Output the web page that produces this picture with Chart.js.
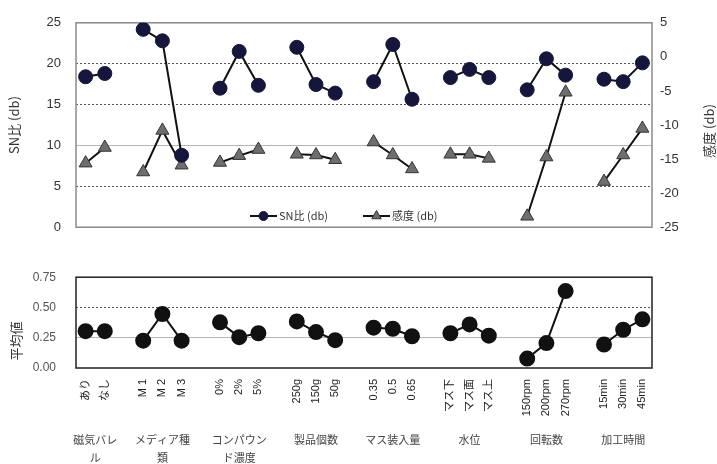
<!DOCTYPE html>
<html><head><meta charset="utf-8">
<script src="https://cdn.jsdelivr.net/npm/chart.js@4"></script>
<style>
html,body{margin:0;padding:0;background:#fff;}
#wrap{position:relative;width:717px;height:464px;overflow:hidden;}
#c1{position:absolute;left:0;top:0;}
#c2{position:absolute;left:0;top:250px;}
</style></head><body>
<div id="wrap">
<canvas id="c1" width="717" height="250"></canvas>
<canvas id="c2" width="717" height="214"></canvas>
</div>
<script>
const categories = ['あり','なし','', 'M 1','M 2','M 3','', '0%','2%','5%','', '250g','150g','50g','', '0.35','0.5','0.65','', 'マス下','マス面','マス上','', '150rpm','200rpm','270rpm','', '15min','30min','45min'];
const snRatio     = [18.4,18.8,null, 24.2,22.8,8.8,null, 17.0,21.5,17.35,null, 22.0,17.45,16.4,null, 17.8,22.35,15.65,null, 18.3,19.3,18.3,null, 16.8,20.6,18.6,null, 18.1,17.8,20.1];
const sensitivity = [-15.6,-13.3,null, -16.9,-10.8,-15.9,null, -15.5,-14.5,-13.6,null, -14.3,-14.4,-15.1,null, -12.5,-14.4,-16.45,null, -14.3,-14.3,-14.9,null, -23.4,-14.7,-5.2,null, -18.3,-14.4,-10.5];
const meanValue   = [0.304,0.304,null, 0.226,0.446,0.226,null, 0.377,0.255,0.287,null, 0.385,0.297,0.230,null, 0.333,0.324,0.262,null, 0.287,0.360,0.267,null, 0.078,0.206,0.635,null, 0.194,0.316,0.402];
const groupNames  = [['磁気バレ','ル'],['メディア種','類'],['コンパウン','ド濃度'],['製品個数'],['マス装入量'],['水位'],['回転数'],['加工時間']];
const groupFirst  = [0,3,7,11,15,19,23,27];
const groupLast   = [1,5,9,13,17,21,25,29];
const snTicks     = ['0','5','10','15','20','25'];
const sensTicks   = ['-25','-20','-15','-10','-5','0','5'];
const meanTicks   = ['0.00','0.25','0.50','0.75'];
const seriesNames = ['SN比 (db)','感度 (db)'];
const axisTitles  = ['SN比 (db)','感度 (db)','平均値'];

const FF = "'Liberation Sans','Noto Sans CJK JP',sans-serif";
const JF = "'Noto Sans CJK JP','Liberation Sans',sans-serif";

function drawRotated(ctx, text, x, y, font, color){
  ctx.save();
  ctx.translate(x,y);
  ctx.rotate(-Math.PI/2);
  ctx.font = font; ctx.fillStyle = color;
  ctx.textAlign='center'; ctx.textBaseline='middle';
  ctx.fillText(text,0,0);
  ctx.restore();
}

const topPlugin = {
  id:'topDecor',
  beforeDatasetsDraw(chart){
    const {ctx, chartArea:a} = chart;
    ctx.save();
    ctx.strokeStyle='#8a8a8a'; ctx.lineWidth=1.5;
    ctx.strokeRect(a.left,a.top,a.right-a.left,a.bottom-a.top);
    ctx.restore();
  },
  afterDraw(chart){
    const ctx = chart.ctx;
    drawRotated(ctx, axisTitles[1], 709, 131, "13px "+JF, '#333');
    const ds = chart.data.datasets;
    const items = [{x:250,y:216,ds:ds[0],text:seriesNames[0]},{x:363,y:216,ds:ds[1],text:seriesNames[1]}];
    items.forEach(it=>{
      ctx.save();
      ctx.strokeStyle='#111'; ctx.lineWidth=2;
      ctx.beginPath(); ctx.moveTo(it.x,it.y); ctx.lineTo(it.x+27,it.y); ctx.stroke();
      ctx.fillStyle = it.ds.pointBackgroundColor; ctx.strokeStyle = it.ds.pointBorderColor; ctx.lineWidth=1;
      Chart.helpers.drawPoint(ctx,{pointStyle:it.ds.pointStyle,radius:it.ds.pointStyle==='triangle'?5.5:4.5,borderWidth:1},it.x+13.5,it.y);
      ctx.font = "11px "+JF; ctx.fillStyle='#333'; ctx.textAlign='left'; ctx.textBaseline='middle';
      ctx.fillText(it.text, it.x+29, it.y);
      ctx.restore();
    });
  }
};

const bottomPlugin = {
  id:'bottomDecor',
  beforeDatasetsDraw(chart){
    const {ctx, chartArea:a} = chart;
    ctx.save();
    ctx.strokeStyle='#222'; ctx.lineWidth=1.5;
    ctx.strokeRect(a.left,a.top,a.right-a.left,a.bottom-a.top);
    ctx.restore();
  },
  afterDraw(chart){
    const ctx = chart.ctx;
    const xs = chart.scales.x;
    drawRotated(ctx, axisTitles[2], 16, 91, "13px "+JF, '#333');
    ctx.save();
    ctx.font = "11px "+JF; ctx.fillStyle='#444'; ctx.textAlign='center'; ctx.textBaseline='middle';
    groupNames.forEach((lines,i)=>{
      const cx = (xs.getPixelForValue(groupFirst[i]) + xs.getPixelForValue(groupLast[i]))/2;
      lines.forEach((ln,j)=> ctx.fillText(ln, cx, 190 + j*18));
    });
    ctx.restore();
  }
};

new Chart(document.getElementById('c1'), {
  type:'line',
  data:{labels:categories, datasets:[
    {label:seriesNames[0], data:snRatio, yAxisID:'y', borderColor:'#111', borderWidth:2, pointStyle:'circle', pointRadius:7, pointBackgroundColor:'#16163c', pointBorderColor:'#16163c', pointBorderWidth:1, tension:0, spanGaps:false},
    {label:seriesNames[1], data:sensitivity, yAxisID:'y1', borderColor:'#111', borderWidth:2, pointStyle:'triangle', pointRadius:7.5, pointBackgroundColor:'#6e6e6e', pointBorderColor:'#333', pointBorderWidth:1, tension:0, spanGaps:false}
  ]},
  options:{
    responsive:false, animation:false, devicePixelRatio:1,
    layout:{padding:{top:21,bottom:9,left:0,right:0}},
    plugins:{legend:{display:false}, tooltip:{enabled:false}},
    scales:{
      x:{display:false, offset:true},
      y:{position:'left', min:0, max:25,
        ticks:{stepSize:5, padding:15, color:'#333', font:{family:FF,size:13}, callback:(v,i)=>snTicks[i]},
        grid:{drawTicks:false, lineWidth:1, color:(c)=> (c.tick && (c.tick.value===0||c.tick.value===25||c.tick.value===10)) ? 'rgba(0,0,0,0)' : '#555'},
        border:{display:false, dash:[2,2]},
        title:{display:true, text:axisTitles[0], color:'#333', font:{family:JF,size:13}, padding:{top:6,bottom:0}},
        afterFit(s){s.width=76;}
      },
      yg:{position:'left', min:0, max:25,
        ticks:{display:false, stepSize:5},
        grid:{drawTicks:false, lineWidth:1, color:'#b4b4b4'},
        border:{display:false},
        afterBuildTicks(s){ s.ticks = s.ticks.filter(t=>t.value===10); },
        afterFit(s){s.width=0;}
      },
      y1:{position:'right', min:-25, max:5,
        ticks:{stepSize:5, padding:8, color:'#333', font:{family:FF,size:13}, callback:(v,i)=>sensTicks[i]},
        grid:{display:false, drawTicks:false}, border:{display:false},
        afterFit(s){s.width=65;}
      }
    }
  },
  plugins:[topPlugin]
});

new Chart(document.getElementById('c2'), {
  type:'line',
  data:{labels:categories, datasets:[
    {label:axisTitles[2], data:meanValue, borderColor:'#111', borderWidth:2, pointStyle:'circle', pointRadius:7, pointBackgroundColor:'#111', pointBorderColor:'#111', tension:0, spanGaps:false}
  ]},
  options:{
    responsive:false, animation:false, devicePixelRatio:1,
    layout:{padding:{top:16,bottom:0,left:0,right:65}},
    plugins:{legend:{display:false}, tooltip:{enabled:false}},
    scales:{
      x:{offset:true, grid:{display:false, drawTicks:false}, border:{display:false},
        ticks:{autoSkip:false, minRotation:90, maxRotation:90, padding:11, color:'#222', font:{family:FF,size:11}},
        afterFit(s){s.height=96;}
      },
      y:{min:0, max:0.75,
        ticks:{stepSize:0.25, padding:20, color:'#555', font:{family:FF,size:12}, callback:(v,i)=>meanTicks[i]},
        grid:{drawTicks:false, lineWidth:1, color:(c)=> (c.tick && (c.tick.value===0||Math.abs(c.tick.value-0.75)<1e-6||Math.abs(c.tick.value-0.25)<1e-6)) ? 'rgba(0,0,0,0)' : '#555'},
        border:{display:false, dash:[2,2]},
        afterFit(s){s.width=76;}
      },
      yg:{position:'left', min:0, max:0.75,
        ticks:{display:false, stepSize:0.25},
        grid:{drawTicks:false, lineWidth:1, color:'#b4b4b4'},
        border:{display:false},
        afterBuildTicks(s){ s.ticks = s.ticks.filter(t=>Math.abs(t.value-0.25)<1e-6); },
        afterFit(s){s.width=0;}
      }
    }
  },
  plugins:[bottomPlugin]
});
</script>
</body></html>
